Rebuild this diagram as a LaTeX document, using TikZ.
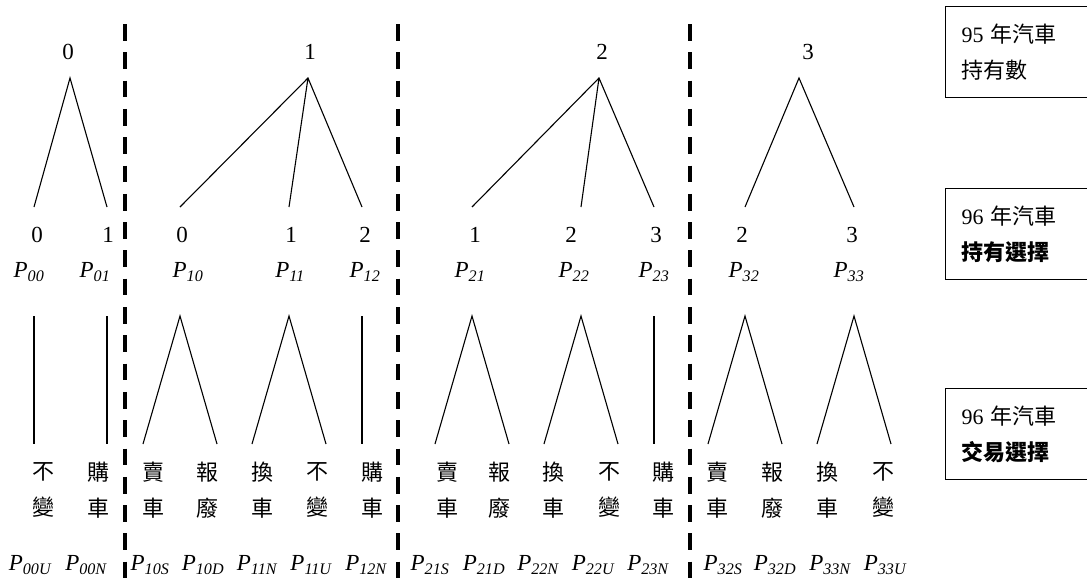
\documentclass[tikz,border=0pt]{standalone}
\usepackage{fontspec}
\setmainfont{Liberation Serif}
\newfontfamily\cjk{Noto Sans CJK TC}
\newcommand\prob[1]{{\itshape P\textsubscript{#1}}}

\begin{document}
\begin{tikzpicture}[x=1pt,y=-1pt,font=\fontsize{23}{36}\selectfont,
  branch/.style={line width=1.1pt},
  divider/.style={line width=4.5pt,dash pattern=on 16.7pt off 11.6pt},
  choice/.style={font=\fontsize{22}{36}\selectfont\cjk,align=center,inner sep=0pt},
  legend/.style={draw,line width=1.1pt,anchor=north west,align=left,
  font=\fontsize{22}{36}\selectfont,
  text width=125pt,minimum height=91pt,inner xsep=16pt,inner ysep=0pt}]
  \useasboundingbox (0,0) rectangle (1087,579);
  \clip (0,0) rectangle (1087,579);

  % dashed dividers between the four groups
  \coordinate (s1) at (125,24);  \coordinate (e1) at (125,579);
  \coordinate (s2) at (398,24);  \coordinate (e2) at (398,579);
  \coordinate (s3) at (690,24);  \coordinate (e3) at (690,579);
  \draw[divider] (s1) -- (e1);
  \draw[divider] (s2) -- (e2);
  \draw[divider] (s3) -- (e3);

  % 95 holdings
  \node (t0) at (68,52) {0};
  \node (t1) at (310,52) {1};
  \node (t2) at (602,52) {2};
  \node (t3) at (808,52) {3};
  \coordinate (a0) at (70,78);
  \coordinate (a1) at (308,78);
  \coordinate (a2) at (599,78);
  \coordinate (a3) at (799,78);

  % 96 holdings
  \node (m00) at (37,235) {0};
  \node (m01) at (108,235) {1};
  \node (m10) at (182,235) {0};
  \node (m11) at (291,235) {1};
  \node (m12) at (365,235) {2};
  \node (m21) at (475,235) {1};
  \node (m22) at (571,235) {2};
  \node (m23) at (656,235) {3};
  \node (m32) at (742,235) {2};
  \node (m33) at (852,235) {3};
  \node (p00) at (29,272) {\prob{00}};
  \node (p01) at (95,272) {\prob{01}};
  \node (p10) at (188,272) {\prob{10}};
  \node (p11) at (290,272) {\prob{11}};
  \node (p12) at (365,272) {\prob{12}};
  \node (p21) at (470,272) {\prob{21}};
  \node (p22) at (574,272) {\prob{22}};
  \node (p23) at (654,272) {\prob{23}};
  \node (p32) at (744,272) {\prob{32}};
  \node (p33) at (849,272) {\prob{33}};

  \foreach \n/\x in {00/34,01/107,10/180,11/289,12/362,21/472,22/581,23/654,32/745,33/854}{
    \coordinate (l\n) at (\x,207);
    \coordinate (u\n) at (\x,316);
  }
  \draw[branch] (l00) -- (a0) -- (l01);
  \draw[branch] (l10) -- (a1) -- (l12) (a1) -- (l11);
  \draw[branch] (l21) -- (a2) -- (l23) (a2) -- (l22);
  \draw[branch] (l32) -- (a3) -- (l33);

  % 96 trades
  \foreach \n/\i/\x in {00U/00/34,00N/01/107,12N/12/362,23N/23/654}{
    \coordinate (d\n) at (\x,444);
    \draw[branch] (u\i) -- (d\n);
  }
  \foreach \i/\x in {10/180,11/289,21/472,22/581,32/745,33/854}{
    \coordinate (dl\i) at (\x-37,444);
    \coordinate (dr\i) at (\x+37,444);
    \draw[branch] (dl\i) -- (u\i) -- (dr\i);
  }

  \node[choice] (c00U) at (43,490) {不\\變};
  \node[choice] (c00N) at (98,490) {購\\車};
  \node[choice] (c10S) at (153,490) {賣\\車};
  \node[choice] (c10D) at (207,490) {報\\廢};
  \node[choice] (c11N) at (262,490) {換\\車};
  \node[choice] (c11U) at (317,490) {不\\變};
  \node[choice] (c12N) at (372,490) {購\\車};
  \node[choice] (c21S) at (447,490) {賣\\車};
  \node[choice] (c21D) at (499,490) {報\\廢};
  \node[choice] (c22N) at (553,490) {換\\車};
  \node[choice] (c22U) at (609,490) {不\\變};
  \node[choice] (c23N) at (663,490) {購\\車};
  \node[choice] (c32S) at (717,490) {賣\\車};
  \node[choice] (c32D) at (772,490) {報\\廢};
  \node[choice] (c33N) at (827,490) {換\\車};
  \node[choice] (c33U) at (883,490) {不\\變};

  \foreach \n/\x in {00U/30,00N/86,10S/150,10D/203,11N/257,11U/311,12N/366,
    21S/430,21D/484,22N/538,22U/593,23N/648,32S/723,32D/775,33N/830,33U/885}
    \node (q\n) at (\x,565) {\prob{\n}};

  % legend boxes
  \node[legend] (k95) at (945,6) {95 {\cjk 年汽車}\\{\cjk 持有數}};
  \node[legend] (k96h) at (945,188) {96 {\cjk 年汽車}\\{\cjk\bfseries 持有選擇}};
  \node[legend] (k96t) at (945,388) {96 {\cjk 年汽車}\\{\cjk\bfseries 交易選擇}};
\end{tikzpicture}
\end{document}
